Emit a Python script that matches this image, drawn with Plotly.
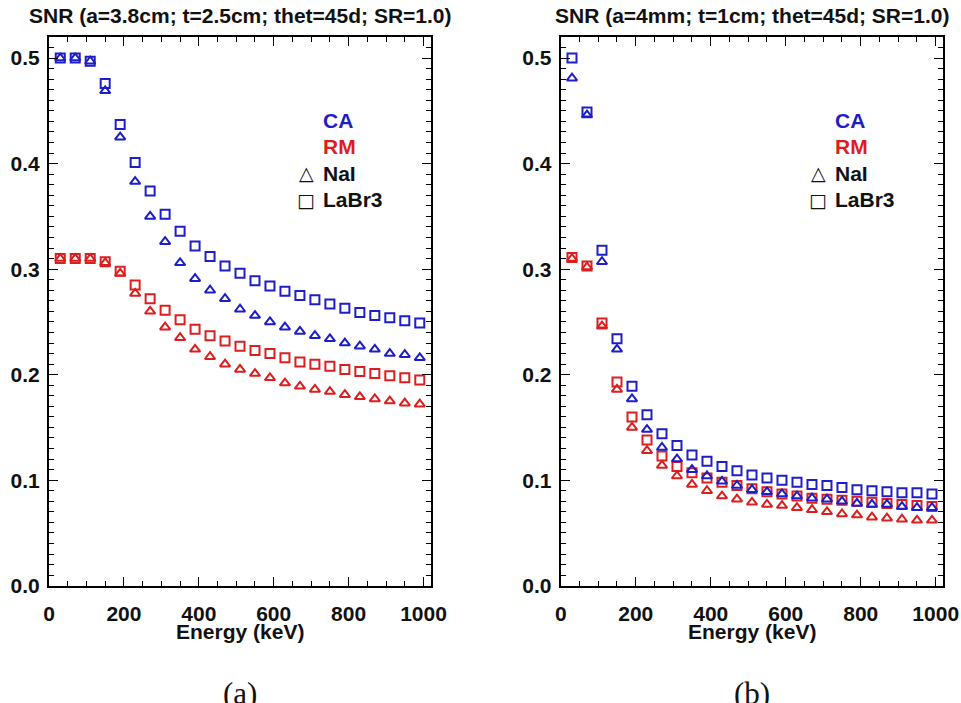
import plotly.graph_objects as go
from plotly.subplots import make_subplots

# Photon energies (keV), shared by both panels
energy = [30, 70, 110, 150, 190, 230, 270, 310, 350, 390, 430, 470, 510,
          550, 590, 630, 670, 710, 750, 790, 830, 870, 910, 950, 990]

# Panel (a): a=3.8cm, t=2.5cm
a_ca_labr3 = [0.500, 0.500, 0.497, 0.476, 0.437, 0.401, 0.374, 0.352, 0.336,
              0.322, 0.312, 0.303, 0.296, 0.289, 0.284, 0.279, 0.275, 0.271,
              0.267, 0.263, 0.259, 0.256, 0.254, 0.251, 0.249]
a_ca_nai = [0.500, 0.500, 0.497, 0.469, 0.425, 0.383, 0.350, 0.326, 0.306,
            0.291, 0.280, 0.272, 0.262, 0.256, 0.250, 0.245, 0.241, 0.237,
            0.234, 0.230, 0.227, 0.224, 0.220, 0.219, 0.216]
a_rm_labr3 = [0.310, 0.310, 0.310, 0.307, 0.298, 0.285, 0.272, 0.261, 0.252,
              0.243, 0.237, 0.232, 0.227, 0.223, 0.220, 0.216, 0.212, 0.210,
              0.208, 0.205, 0.203, 0.201, 0.199, 0.197, 0.195]
a_rm_nai = [0.310, 0.310, 0.310, 0.306, 0.296, 0.277, 0.260, 0.245, 0.235,
            0.224, 0.217, 0.210, 0.205, 0.201, 0.197, 0.192, 0.189, 0.186,
            0.184, 0.181, 0.179, 0.177, 0.175, 0.173, 0.172]

# Panel (b): a=4mm, t=1cm
b_ca_labr3 = [0.500, 0.449, 0.318, 0.234, 0.189, 0.162, 0.144, 0.133, 0.124,
              0.118, 0.113, 0.109, 0.105, 0.102, 0.100, 0.098, 0.096, 0.095,
              0.093, 0.091, 0.090, 0.089, 0.088, 0.088, 0.087]
b_ca_nai = [0.481, 0.446, 0.307, 0.224, 0.177, 0.148, 0.131, 0.120, 0.110,
            0.104, 0.099, 0.095, 0.091, 0.089, 0.087, 0.085, 0.083, 0.082,
            0.080, 0.078, 0.077, 0.077, 0.075, 0.074, 0.074]
b_rm_labr3 = [0.311, 0.303, 0.249, 0.193, 0.160, 0.138, 0.123, 0.113, 0.107,
              0.102, 0.098, 0.095, 0.092, 0.089, 0.087, 0.085, 0.083, 0.082,
              0.081, 0.080, 0.079, 0.078, 0.077, 0.076, 0.075]
b_rm_nai = [0.310, 0.302, 0.246, 0.186, 0.150, 0.128, 0.114, 0.104, 0.096,
            0.090, 0.085, 0.082, 0.079, 0.077, 0.076, 0.074, 0.072, 0.070,
            0.068, 0.067, 0.065, 0.064, 0.063, 0.062, 0.062]

titles = ["SNR (a=3.8cm; t=2.5cm; thet=45d; SR=1.0)",
          "SNR (a=4mm; t=1cm; thet=45d; SR=1.0)"]
captions = ["(a)", "(b)"]
x_label = "Energy (keV)"
x_tick_step = 200
y_tick_step = 0.1

BLUE = "#1e1ec8"
RED = "#dc1e1e"
INK = "#111111"
FONT = "Liberation Sans, Arial, sans-serif"

fig = make_subplots(rows=1, cols=2)

panels = [
    (a_ca_nai, a_ca_labr3, a_rm_nai, a_rm_labr3),
    (b_ca_nai, b_ca_labr3, b_rm_nai, b_rm_labr3),
]

for col, (ca_nai, ca_labr3, rm_nai, rm_labr3) in enumerate(panels, start=1):
    for ys, color, symbol, size in [
        (rm_labr3, RED, "square-open", 9),
        (rm_nai, RED, "triangle-up-open", 9),
        (ca_labr3, BLUE, "square-open", 9),
        (ca_nai, BLUE, "triangle-up-open", 9),
    ]:
        fig.add_trace(
            go.Scatter(
                x=energy, y=ys, mode="markers", showlegend=False,
                marker=dict(symbol=symbol, size=size, color=color,
                            line=dict(color=color, width=2)),
            ),
            row=1, col=col,
        )

# Plot-area geometry (paper fractions)
x_domains = [[0.051, 0.4485], [0.5835, 0.9815]]
y_domain = [0.1668, 0.9474]

tick_font = dict(family=FONT, size=21, color=INK, weight="bold")

fig.update_xaxes(
    showline=True, linecolor="black", linewidth=2, mirror="allticks",
    ticks="inside", ticklen=9, tickwidth=1, tickcolor="black",
    showgrid=False, zeroline=False, automargin=False,
    range=[0, 1020], dtick=x_tick_step,
    tickfont=tick_font, ticklabelstandoff=8,
    minor=dict(ticks="inside", ticklen=5, tickcolor="black", dtick=50),
)
fig.update_yaxes(
    showline=True, linecolor="black", linewidth=2, mirror="allticks",
    ticks="inside", ticklen=9, tickwidth=1, tickcolor="black",
    showgrid=False, zeroline=False, automargin=False,
    range=[0, 0.52], dtick=y_tick_step, tickformat=".1f",
    tickfont=tick_font, ticklabelstandoff=3,
    minor=dict(ticks="inside", ticklen=5, tickcolor="black", dtick=0.01),
    domain=y_domain,
)
fig.update_xaxes(domain=x_domains[0], row=1, col=1)
fig.update_xaxes(domain=x_domains[1], row=1, col=2)

annotations = []
for i in range(2):
    xd = "x domain" if i == 0 else "x2 domain"
    yd = "y domain" if i == 0 else "y2 domain"
    cx = (x_domains[i][0] + x_domains[i][1]) / 2
    # Panel title
    annotations.append(dict(
        text=titles[i], xref="paper", yref="paper", x=cx, y=0.978,
        xanchor="center", yanchor="middle", showarrow=False,
        font=dict(family=FONT, size=21, color=INK, weight="bold"),
    ))
    # Energy axis label
    annotations.append(dict(
        text=x_label, xref="paper", yref="paper", x=cx, y=0.101,
        xanchor="center", yanchor="middle", showarrow=False,
        font=dict(family=FONT, size=21, color=INK, weight="bold"),
    ))
    # Caption below the panel
    annotations.append(dict(
        text=captions[i], xref="paper", yref="paper", x=cx, y=0.014,
        xanchor="center", yanchor="middle", showarrow=False,
        font=dict(family="Liberation Serif, serif", size=31, color=INK),
    ))
    # Key: method colours and detector symbols
    key_rows = [
        ("CA", BLUE, None, 0.847),
        ("RM", RED, None, 0.800),
        ("NaI", INK, "\u25b3", 0.752),
        ("LaBr3", INK, "\u25a1", 0.703),
    ]
    for label, color, sym, ky in key_rows:
        annotations.append(dict(
            text=label, xref=xd, yref=yd, x=0.713, y=ky,
            xanchor="left", yanchor="middle", showarrow=False,
            font=dict(family=FONT, size=21, color=color, weight="bold"),
        ))
        if sym:
            annotations.append(dict(
                text=sym, xref=xd, yref=yd, x=0.673, y=ky,
                xanchor="center", yanchor="middle", showarrow=False,
                font=dict(family="DejaVu Sans", size=19, color=INK,
                          weight="bold"),
            ))

fig.update_layout(
    width=961, height=703,
    margin=dict(l=0, r=0, t=0, b=0),
    paper_bgcolor="white", plot_bgcolor="white",
    annotations=annotations,
    showlegend=False,
)

fig.write_html("out.html")
